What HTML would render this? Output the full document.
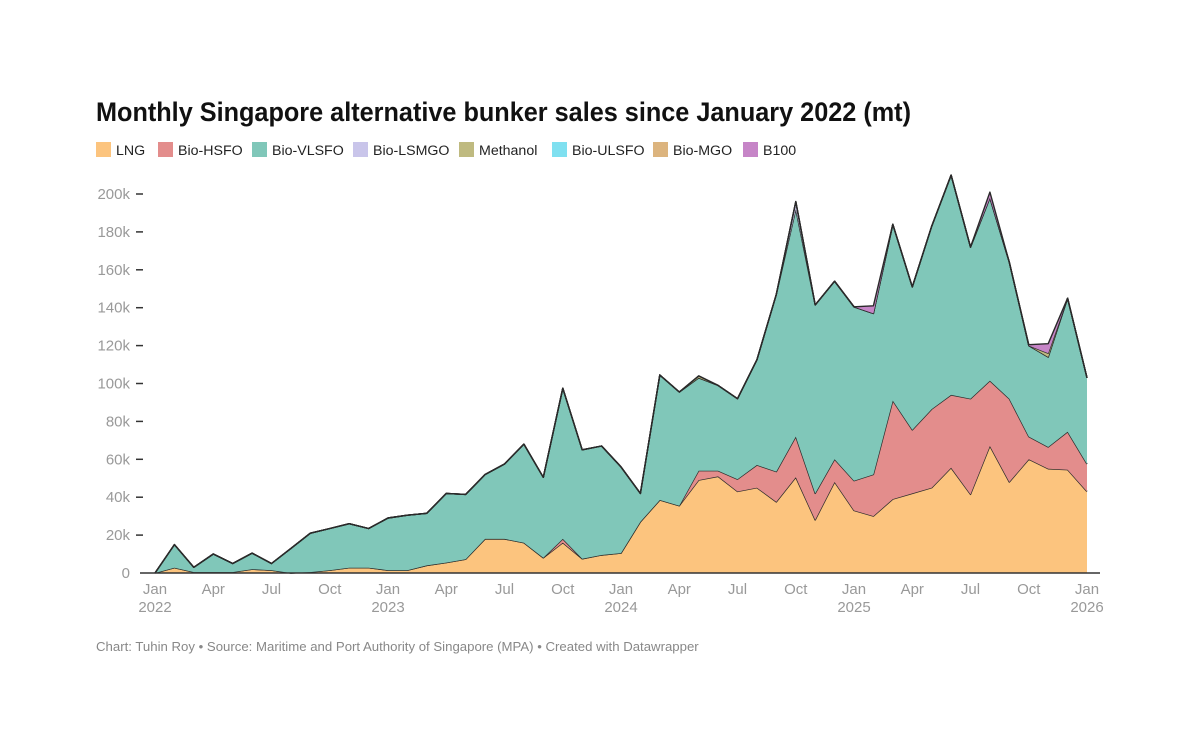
<!DOCTYPE html>
<html><head><meta charset="utf-8"><style>
html,body{margin:0;padding:0;background:#fff;}
svg{display:block;font-family:"Liberation Sans",sans-serif;}
</style></head><body>
<svg id="chart" width="1200" height="752" viewBox="0 0 1200 752">
<text x="96" y="121" font-size="27" font-weight="bold" fill="#111" textLength="815" lengthAdjust="spacingAndGlyphs">Monthly Singapore alternative bunker sales since January 2022 (mt)</text>
<g id="legend"></g>
<g id="yaxis"></g>
<g id="areas"></g>
<line x1="140" y1="573" x2="1100" y2="573" stroke="#333" stroke-width="1.5"/>
<g id="xaxis"></g>
<text x="96" y="651" font-size="13.2" fill="#888">Chart: Tuhin Roy • Source: Maritime and Port Authority of Singapore (MPA) • Created with Datawrapper</text>
</svg>
<script>
const seriesNames = ["LNG","Bio-HSFO","Bio-VLSFO","Bio-LSMGO","Methanol","Bio-ULSFO","Bio-MGO","B100"];
const seriesColors = ["#fcc47e","#e38d8c","#80c7b9","#c9c5ea","#bfba80","#7fe0f0","#dcb47e","#c685c7"];
const lng = [0,2.8,0.5,0.5,0.5,2,1.5,0,0.5,1.5,2.8,2.8,1.5,1.5,4,5.5,7.3,18,18,16,8,16,7.5,9.5,10.5,27,38.5,35.5,49,51,43,45,37.5,50.5,28,48,33,30,39,42,45,55.5,41.5,67,48,60,55,54.5,43];
const hsfo = [0,0,0,0,0,0,0,0,0,0,0,0,0,0,0,0,0,0,0,0,0,2,0,0,0,0,0,0,5,3,6.5,12,16,21.5,14,12,15.7,22,52,33.5,41.5,38.5,50.5,34.5,44,12,11.5,20,14.5];
const vlsfo = [0,12.2,2.5,9.5,4.5,8.5,3.5,13,20.5,22,23.2,20.7,27.5,29,27.5,36.5,34.2,34,39.5,52,42.5,79.5,57.5,57.5,45.5,15,66,60,49,45,42.5,55.5,93.5,120,99.5,94,91.8,85,93,75.5,96.5,116,80,96.5,72,48,47.5,70.5,45.5];
const lsmgo = [0,0,0,0,0,0,0,0,0,0,0,0,0,0,0,0,0,0,0,0,0,0,0,0,0,0,0,0,0,0,0,0,0,4,0,0,0,0,0,0,0,0,0,0,0,0,0,0,0];
const methanol = [0,0,0,0,0,0,0,0,0,0,0,0,0,0,0,0,0,0,0,0,0,0,0,0,0,0,0,0,1,0,0,0,0,0,0,0,0,0,0,0,0,0,0,0,0,0,2,0,0];
const ulsfo = new Array(49).fill(0);
const mgo = new Array(49).fill(0);
const b100 = [0,0,0,0,0,0,0,0,0,0,0,0,0,0,0,0,0,0,0,0,0,0,0,0,0,0,0,0,0,0,0,0,0,0,0,0,0,4,0,0,0,0,0,3,0,0.5,5,0,0];
const yTicks = [0,20,40,60,80,100,120,140,160,180,200];
const xTickMonths = [0,3,6,9,12,15,18,21,24,27,30,33,36,39,42,45,48];
const xTickLabels = ["Jan|2022","Apr","Jul","Oct","Jan|2023","Apr","Jul","Oct","Jan|2024","Apr","Jul","Oct","Jan|2025","Apr","Jul","Oct","Jan|2026"];

const NS="http://www.w3.org/2000/svg";
const X0=155,X1=1087,Y0=573,Y200=194;
const xs=i=>X0+(X1-X0)*i/48;
const ys=v=>Y0-(Y0-Y200)*v/200;
function mk(t,a,p){const e=document.createElementNS(NS,t);for(const k in a)e.setAttribute(k,a[k]);p.appendChild(e);return e;}

const legendX=[96,158,252,353,459,552,653,743];
const lg=document.getElementById('legend');
seriesNames.forEach((n,i)=>{
  const r=mk('rect',{x:legendX[i],y:142,width:15,height:15,fill:seriesColors[i]},lg);
  
  
  const t=mk('text',{x:legendX[i]+20,y:155,'font-size':14.2,fill:'#222'},lg);
  t.textContent=n;
  
  
});

const ya=document.getElementById('yaxis');
yTicks.forEach(v=>{
  const y=ys(v);
  const t=mk('text',{x:130,y:y+5,'font-size':15,fill:'#999','text-anchor':'end'},ya);
  t.textContent=v===0?'0':v+'k';
  
  
  if(v>0){const l=mk('line',{x1:136,x2:143,y1:y,y2:y,stroke:'#333','stroke-width':1.5},ya);
  
  }
});

const data=[lng,hsfo,vlsfo,lsmgo,methanol,ulsfo,mgo,b100];
const ar=document.getElementById('areas');
let base=new Array(49).fill(0);
data.forEach((s,k)=>{
  const top=base.map((b,i)=>b+s[i]);
  if(s.some(v=>v>0)){
    let d='M'+top.map((v,i)=>xs(i).toFixed(1)+','+ys(v).toFixed(1)).join('L');
    for(let i=48;i>=0;i--) d+='L'+xs(i).toFixed(1)+','+ys(base[i]).toFixed(1);
    d+='Z';
    const p=mk('path',{d:d,fill:seriesColors[k],stroke:'none'},ar);
    
    
    const l=mk('path',{d:'M'+top.map((v,i)=>xs(i).toFixed(1)+','+ys(v).toFixed(1)).join('L'),fill:'none',stroke:'#2a2a2a','stroke-width':1.4,'stroke-linejoin':'round'},ar);
    
    
  }
  base=top;
});

const xa=document.getElementById('xaxis');
xTickMonths.forEach((m,i)=>{
  const parts=xTickLabels[i].split('|');
  parts.forEach((p,j)=>{
    const t=mk('text',{x:xs(m),y:594+j*18,'font-size':15,fill:'#999','text-anchor':'middle'},xa);
    t.textContent=p;
    
    
  });
});
</script>
</body></html>
